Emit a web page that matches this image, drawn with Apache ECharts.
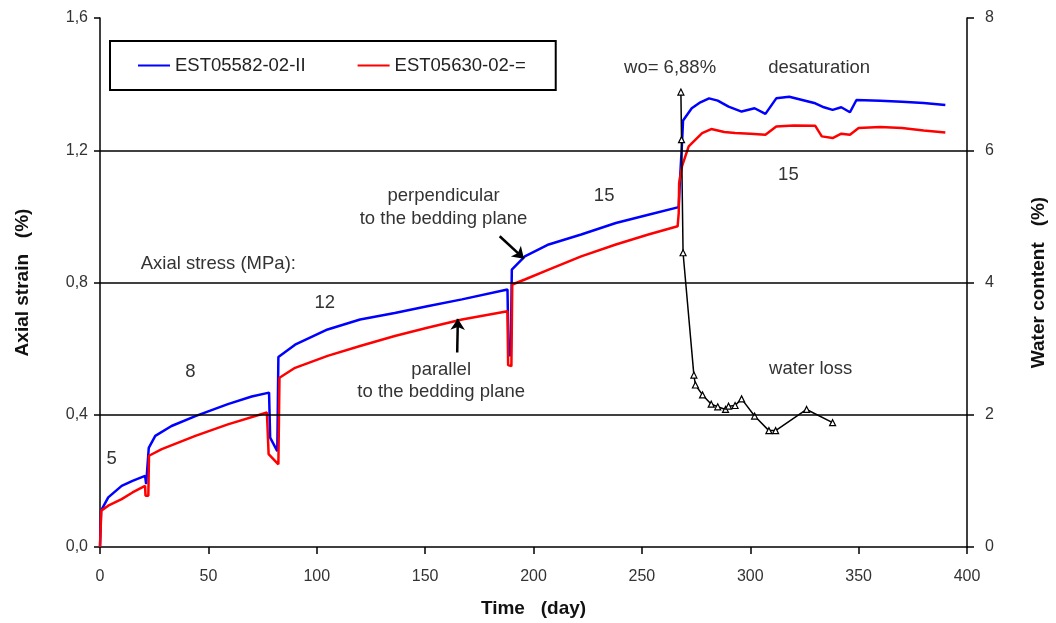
<!DOCTYPE html>
<html>
<head>
<meta charset="utf-8">
<script src="https://cdn.jsdelivr.net/npm/echarts@6/dist/echarts.min.js"></script>
<style>
    html, body { margin: 0; padding: 0; background: #fff; }
    #chart { width: 1056px; height: 623px; }
</style>
</head>
<body>
<div id="chart"></div>
<script>
// time in days, axial strain in %
const blueStrain = [
    [0, 0], [0.5, 0.11], [3.8, 0.15], [10, 0.185], [15, 0.2], [20.8, 0.215], [21.3, 0.19], [21.8, 0.185],
    [22.5, 0.3], [25.5, 0.336], [33, 0.366], [44, 0.396], [59, 0.432], [70, 0.455], [78, 0.467],
    [78.5, 0.331], [81.8, 0.29], [82.3, 0.575], [90, 0.612], [105, 0.658], [120, 0.688], [136, 0.708],
    [151, 0.728], [167, 0.749], [188, 0.779], [188.5, 0.58], [189.5, 0.58], [190, 0.839], [196, 0.879],
    [207, 0.915], [222, 0.945], [238, 0.98], [253, 1.005], [267, 1.028], [267.5, 1.1], [268.5, 1.22],
    [269, 1.29], [273, 1.327], [277, 1.345], [281, 1.357], [285, 1.35], [290, 1.332], [296, 1.317],
    [302, 1.327], [307, 1.31], [312, 1.357], [318, 1.362], [324, 1.352], [330, 1.342], [334, 1.33],
    [338, 1.322], [342, 1.33], [346, 1.315], [349, 1.352], [360, 1.35], [370, 1.347], [380, 1.343], [390, 1.337]
];
const redStrain = [
    [0, 0], [0.6, 0.11], [3.8, 0.125], [10, 0.145], [15, 0.165], [20.8, 0.185], [21, 0.155], [22.3, 0.155],
    [22.6, 0.276], [28.5, 0.296], [44, 0.336], [59, 0.371], [77, 0.407], [77.8, 0.281], [82.3, 0.25],
    [82.8, 0.512], [90, 0.542], [105, 0.578], [120, 0.608], [136, 0.638], [151, 0.663], [167, 0.688],
    [188, 0.713], [188.3, 0.55], [189.8, 0.547], [190.2, 0.794], [196, 0.809], [207, 0.839], [222, 0.879],
    [238, 0.915], [253, 0.945], [266.5, 0.97], [267, 1.01], [267.2, 1.1], [268.5, 1.151], [271.6, 1.212],
    [277.8, 1.252], [282, 1.264], [288, 1.255], [293, 1.252], [300, 1.25], [307, 1.247], [312, 1.272],
    [320, 1.275], [330, 1.274], [333, 1.242], [338, 1.237], [342, 1.25], [346, 1.247], [350, 1.267],
    [360, 1.27], [370, 1.267], [380, 1.26], [390, 1.254]
];
// water content in %
const waterContent = [
    [268, 6.88], [268.3, 6.16], [269, 4.45], [274, 2.6], [274.7, 2.45], [278, 2.3], [282, 2.16],
    [285, 2.12], [288.6, 2.08], [290, 2.13], [293, 2.14], [296, 2.24], [302, 1.98], [308.6, 1.76],
    [311.7, 1.76], [326, 2.08], [338, 1.88]
];
const seriesNames = ['EST05582-02-II', 'EST05630-02-='];
const gridLevels = [0.4, 0.8, 1.2];

// text notes, anchored in data coordinates [day, strain]
const notes = [
    ['5', 5.4, 0.266],
    ['8', 41.7, 0.53],
    ['12', 103.7, 0.737],
    ['Axial stress (MPa):', 54.6, 0.857],
    ['perpendicular', 158.5, 1.062],
    ['to the bedding plane', 158.5, 0.992],
    ['15', 232.6, 1.063],
    ['parallel', 157.4, 0.535],
    ['to the bedding plane', 157.4, 0.468],
    ['wo= 6,88%', 263, 1.45],
    ['desaturation', 331.8, 1.449],
    ['15', 317.6, 1.126],
    ['water loss', 327.9, 0.54]
];
// arrows [from, to]
const arrows = [
    [[184.4, 0.94], [195.6, 0.872]],
    [[164.8, 0.588], [165.1, 0.69]]
];

const font = 'Liberation Sans, Arial, sans-serif';
const chart = echarts.init(document.getElementById('chart'));

const option = {
    animation: false,
    grid: { left: 100, right: 88, top: 18, bottom: 75 },
    legend: {
        data: seriesNames,
        left: 110,
        top: 41,
        padding: [15, 30, 15, 28],
        itemGap: 52,
        itemWidth: 32,
        itemHeight: 2,
        icon: 'rect',
        borderColor: '#000',
        borderWidth: 2,
        textStyle: { fontFamily: font, fontSize: 18.5, color: '#222' }
    },
    xAxis: {
        type: 'value',
        min: 0,
        max: 400,
        interval: 50,
        name: 'Time   (day)',
        nameLocation: 'middle',
        nameGap: 52,
        nameTextStyle: { fontFamily: font, fontSize: 19, fontWeight: 'bold', color: '#111' },
        axisLine: { onZero: false, lineStyle: { color: '#000', width: 1.5 } },
        axisTick: { length: 7, lineStyle: { color: '#000', width: 1.5 } },
        axisLabel: { fontFamily: font, fontSize: 16, color: '#333', margin: 22 },
        splitLine: { show: false }
    },
    yAxis: [
        {
            type: 'value',
            min: 0,
            max: 1.6,
            interval: 0.4,
            name: 'Axial strain   (%)',
            nameLocation: 'middle',
            nameRotate: 90,
            nameGap: 68,
            nameTextStyle: { fontFamily: font, fontSize: 19, fontWeight: 'bold', color: '#111' },
            axisLine: { show: true, lineStyle: { color: '#000', width: 1.5 } },
            axisTick: { show: true, length: 6, lineStyle: { color: '#000', width: 1.5 } },
            axisLabel: {
                fontFamily: font, fontSize: 16, color: '#333', margin: 12,
                formatter: v => v.toFixed(1).replace('.', ',')
            },
            splitLine: { show: false }
        },
        {
            type: 'value',
            min: 0,
            max: 8,
            interval: 2,
            position: 'right',
            name: 'Water content   (%)',
            nameLocation: 'middle',
            nameRotate: 90,
            nameGap: 62,
            nameTextStyle: { fontFamily: font, fontSize: 19, fontWeight: 'bold', color: '#111' },
            axisLine: { show: true, lineStyle: { color: '#000', width: 1.5 } },
            axisTick: { show: true, length: 7, lineStyle: { color: '#000', width: 1.5 } },
            axisLabel: { fontFamily: font, fontSize: 16, color: '#333', margin: 18 },
            splitLine: { show: false }
        }
    ],
    series: [
        {
            name: seriesNames[0],
            type: 'line',
            data: blueStrain,
            symbol: 'none',
            z: 3,
            lineStyle: { color: '#0000ff', width: 2.5 },
            itemStyle: { color: '#0000ff' },
            markLine: {
                silent: true,
                symbol: 'none',
                label: { show: false },
                lineStyle: { color: '#000', width: 1.5, type: 'solid' },
                data: gridLevels.map(v => ({ yAxis: v }))
            }
        },
        {
            name: seriesNames[1],
            type: 'line',
            data: redStrain,
            symbol: 'none',
            z: 3,
            lineStyle: { color: '#ff0000', width: 2.5 },
            itemStyle: { color: '#ff0000' },
            markLine: {
                silent: true,
                symbol: ['none', 'arrow'],
                symbolSize: 11,
                label: { show: false },
                lineStyle: { color: '#000', width: 2.5, type: 'solid' },
                data: arrows.map(a => [{ coord: a[0] }, { coord: a[1] }])
            }
        },
        {
            name: 'Water content',
            type: 'line',
            yAxisIndex: 1,
            data: waterContent,
            symbol: 'triangle',
            symbolSize: 6,
            z: 4,
            lineStyle: { color: '#000', width: 1.5 },
            itemStyle: { color: '#fff', borderColor: '#000', borderWidth: 1.2 }
        }
    ]
};

chart.setOption(option);

chart.setOption({
    graphic: notes.map(n => {
        const p = chart.convertToPixel({ xAxisIndex: 0, yAxisIndex: 0 }, [n[1], n[2]]);
        return {
            type: 'text',
            x: p[0],
            y: p[1],
            z: 10,
            style: {
                text: n[0],
                fill: '#333',
                font: '18.5px ' + font,
                textAlign: 'center',
                textVerticalAlign: 'middle'
            }
        };
    })
});
</script>
</body>
</html>
